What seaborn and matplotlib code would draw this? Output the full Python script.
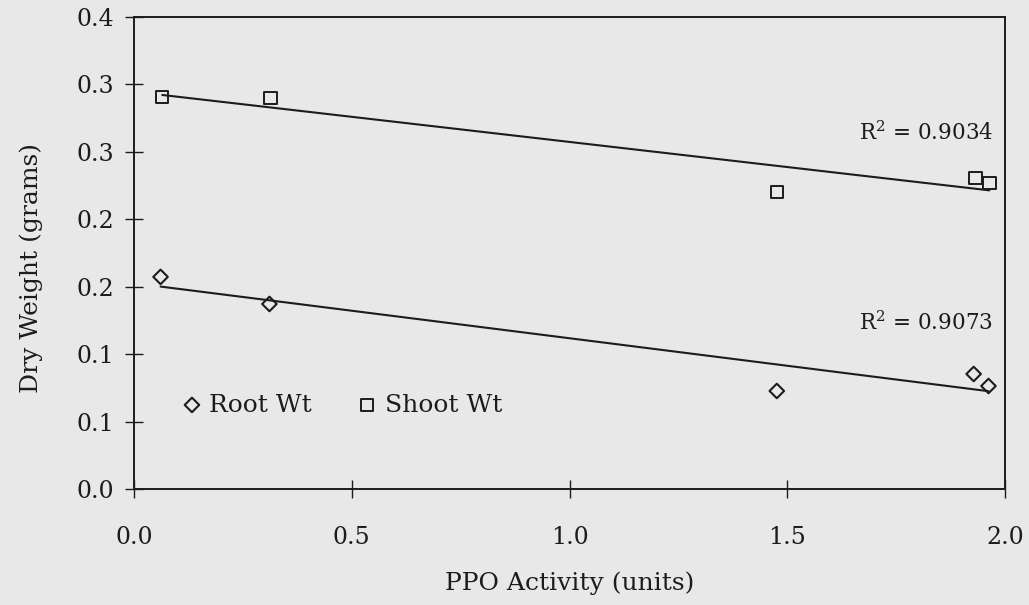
import numpy as np
import pandas as pd
import matplotlib
matplotlib.use("Agg")
import matplotlib.pyplot as plt
import seaborn as sns

# --------------------------------------------------
# Data
# --------------------------------------------------

root_ppo = [0.061, 0.311, 1.476, 1.928, 1.962]
root_wt = [0.1573, 0.1372, 0.0727, 0.0853, 0.0764]

shoot_ppo = [0.065, 0.313, 1.476, 1.932, 1.964]
shoot_wt = [0.2908, 0.2901, 0.2203, 0.2307, 0.2270]

r2_root = "0.9073"
r2_shoot = "0.9034"

y_ticks = [0.0, 0.05, 0.10, 0.15, 0.20, 0.25, 0.30, 0.35]
y_tick_labels = ["0.0", "0.1", "0.1", "0.2", "0.2", "0.3", "0.3", "0.4"]
x_ticks = [0.0, 0.5, 1.0, 1.5, 2.0]
x_tick_labels = ["0.0", "0.5", "1.0", "1.5", "2.0"]

root_df = pd.DataFrame({"ppo": root_ppo, "wt": root_wt})
shoot_df = pd.DataFrame({"ppo": shoot_ppo, "wt": shoot_wt})

# --------------------------------------------------
# Style
# --------------------------------------------------

BG = "#e8e8e8"
INK = "#1c1c1c"

sns.set_style("ticks")
plt.rcParams["font.family"] = ["DejaVu Serif"]
plt.rcParams["mathtext.fontset"] = "dejavuserif"
plt.rcParams["text.color"] = INK
plt.rcParams["axes.labelcolor"] = INK
plt.rcParams["xtick.color"] = INK
plt.rcParams["ytick.color"] = INK

fig = plt.figure(figsize=(10.29, 6.05), dpi=100, facecolor=BG)
ax = fig.add_axes([0.1302, 0.1917, 0.8465, 0.7802])
ax.set_facecolor(BG)

# --------------------------------------------------
# Regression lines
# --------------------------------------------------

for df in (root_df, shoot_df):
    sns.regplot(
        data=df,
        x="ppo",
        y="wt",
        scatter=False,
        ci=None,
        color=INK,
        line_kws={"linewidth": 1.5},
        ax=ax
    )

# --------------------------------------------------
# Points
# --------------------------------------------------

sns.scatterplot(
    data=root_df,
    x="ppo",
    y="wt",
    marker="D",
    s=55,
    facecolor="none",
    edgecolor=INK,
    linewidth=1.5,
    label="Root Wt",
    ax=ax,
    zorder=3
)

sns.scatterplot(
    data=shoot_df,
    x="ppo",
    y="wt",
    marker="s",
    s=80,
    facecolor="none",
    edgecolor=INK,
    linewidth=1.4,
    label="Shoot Wt",
    ax=ax,
    zorder=3
)

# --------------------------------------------------
# Axes
# --------------------------------------------------

ax.set_xlim(0, 2.0)
ax.set_ylim(0, 0.35)

ax.set_xticks(x_ticks)
ax.set_xticklabels(x_tick_labels)
ax.set_yticks(y_ticks)
ax.set_yticklabels(y_tick_labels)

ax.tick_params(
    axis="y",
    direction="inout",
    length=13,
    width=1.0,
    pad=8,
    labelsize=17
)

ax.tick_params(
    axis="x",
    direction="inout",
    length=13,
    width=1.0,
    pad=20,
    labelsize=17
)

for side in ["top", "right", "left", "bottom"]:
    ax.spines[side].set_visible(True)
    ax.spines[side].set_color(INK)
    ax.spines[side].set_linewidth(1.4)

ax.set_xlabel("PPO Activity (units)", fontsize=18)
ax.set_ylabel("Dry Weight (grams)", fontsize=18)
ax.xaxis.set_label_coords(0.5, -0.175)
ax.yaxis.set_label_coords(-0.104, 0.468)

# --------------------------------------------------
# Annotations
# --------------------------------------------------

ax.text(
    0.986, 0.754,
    r"R$^2$ = " + r2_shoot,
    transform=ax.transAxes,
    ha="right",
    va="center",
    fontsize=15.5
)

ax.text(
    0.986, 0.352,
    r"R$^2$ = " + r2_root,
    transform=ax.transAxes,
    ha="right",
    va="center",
    fontsize=15.5
)

ax.legend(
    loc="center left",
    bbox_to_anchor=(0.0436, 0.178),
    borderaxespad=0,
    ncol=2,
    frameon=False,
    fontsize=18,
    handlelength=0.8,
    handletextpad=0.3,
    columnspacing=1.8
)

fig.savefig("out.png", dpi=100, facecolor=BG)
